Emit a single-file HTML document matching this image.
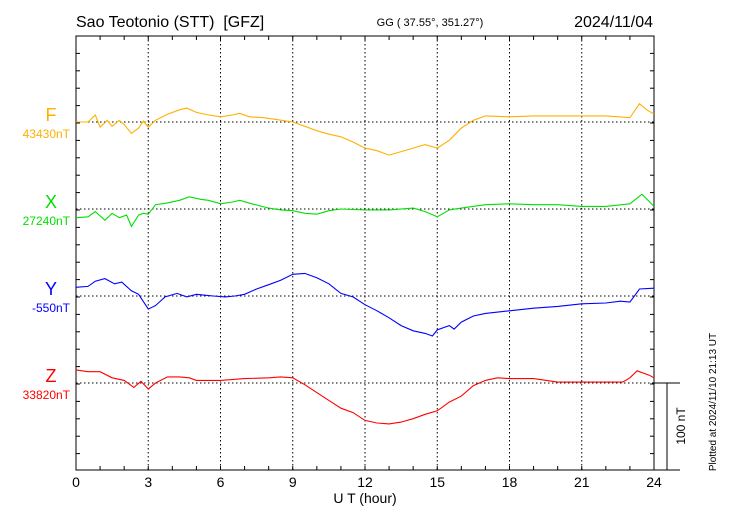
<!DOCTYPE html>
<html><head><meta charset="utf-8"><style>
body{margin:0;background:#fff}
svg{display:block;font-family:"Liberation Sans",sans-serif}
</style></head><body>
<svg id="chart" width="730" height="520" viewBox="0 0 730 520">
<text x="76" y="27" font-size="16" fill="#000">Sao Teotonio (STT)&#160; [GFZ]</text>
<text x="430" y="26" font-size="11" text-anchor="middle" fill="#000">GG ( 37.55°, 351.27°)</text>
<text x="653" y="27" font-size="16" text-anchor="end" fill="#000">2024/11/04</text>
<text x="365" y="503" font-size="14" text-anchor="middle" fill="#000">U T (hour)</text>
<text transform="translate(685,426) rotate(-90)" font-size="12" text-anchor="middle" fill="#000">100 nT</text>
<text transform="translate(716,402) rotate(-90)" font-size="10" text-anchor="middle" fill="#000">Plotted at 2024/11/10 21:13 UT</text>
<g id="grid"></g><g id="axes"></g><g id="series"></g>
</svg>
<script>
const hours = [0,3,6,9,12,15,18,21,24];
const fT=[0,0.5,0.8,1.0,1.3,1.5,1.8,2.0,2.3,2.6,2.8,3.0,3.3,3.8,4.3,4.6,5.0,5.5,6.0,6.5,6.8,7.2,7.8,8.3,9.0,9.5,10,10.5,11,11.5,12,12.5,13,13.5,14,14.5,15,15.5,16,16.5,17,18,19,20,21,22,23,23.4,23.7,24];
const fV=[0,0,8,-6,2,-5,2,-3,-13,-7,1,-6,2,9,14,16,11,8,6,8,10,6,5,3,0,-5,-10,-14,-17,-23,-30,-33,-38,-34,-30,-26,-30,-21,-7,2,7,6,7,7,7,7,5,21,14,9];
const xT=[0,0.5,0.8,1.2,1.5,1.8,2.1,2.3,2.6,2.8,3.0,3.3,3.8,4.3,4.7,5.2,5.5,6.0,6.5,6.8,7.3,8,8.5,9,9.5,10,10.5,11,12,13,14,14.5,15,15.5,16,17,18,19,20,21,22,23,23.5,24];
const xV=[-10,-9,-3,-13,-5,-10,-7,-20,-7,-5,-6,5,7,10,14,11,10,6,8,10,6,1,-1,-2,-5,-6,-2,0,-1,-1,1,-3,-9,-1,1,5,6,5,5,3,3,6,17,3];
const yT=[0,0.5,0.8,1.2,1.6,1.9,2.3,2.6,3.0,3.3,3.7,4.2,4.6,5.0,5.3,5.7,6.2,6.6,7.0,7.5,8,8.5,9,9.5,10,10.5,11,11.5,12,12.5,13,13.5,14,14.5,14.8,15,15.5,15.7,16,16.5,17,18,19,20,21,22,22.6,23,23.4,24];
const yV=[10,11,17,20,14,16,6,2,-15,-11,-1,3,-1,2,1,0,-1,0,2,8,13,18,25,26,21,14,3,-1,-10,-17,-25,-34,-40,-43,-46,-39,-34,-38,-30,-23,-20,-17,-14,-12,-9,-8,-6,-7,8,9];
const zT=[0,0.5,1,1.5,2,2.4,2.7,3,3.3,3.8,4.3,4.7,5,6,7,8,8.5,9,9.5,10,10.5,11,11.5,12,12.5,13,13.5,14,14.5,15,15.5,16,16.5,17,17.5,18,19,20,21,22,22.7,23,23.3,23.8,24];
const zV=[15,13,13,6,3,-5,2,-7,0,7,7,6,3,3,5,6,7,6,-2,-11,-20,-29,-34,-43,-46,-47,-45,-41,-36,-32,-22,-15,-3,3,6,5,5,1,1,1,1,6,14,9,6];
const names=['F','X','Y','Z'];
const bases=['43430nT','27240nT','-550nT','33820nT'];
const colors=['#ffb000','#00e000','#0000ff','#ff0000'];
const X0=76,X1=654,Y0=36,Y1=470,PXNT=0.87;
const baseY=[122,209,296,383];
const sx=h=>X0+(X1-X0)*h/24;
const ns='http://www.w3.org/2000/svg';
function mk(tag,attrs,parent){const e=document.createElementNS(ns,tag);for(const k in attrs)e.setAttribute(k,attrs[k]);parent.appendChild(e);return e;}
const grid=document.getElementById('grid'),axes=document.getElementById('axes'),ser=document.getElementById('series');
hours.forEach(h=>{
  if(h>0&&h<24){const l=mk('line',{x1:sx(h),x2:sx(h),y1:Y0,y2:Y1,stroke:'#000','stroke-width':1,'stroke-dasharray':'1.5,2.5'},grid);
  
  }
  const t=mk('text',{x:sx(h),y:487,'font-size':14,'text-anchor':'middle',fill:'#000'},axes);t.textContent=h;
  
  
});
baseY.forEach(y=>{const l=mk('line',{x1:X0,x2:X1,y1:y,y2:y,stroke:'#000','stroke-width':1,'stroke-dasharray':'1.5,2.5'},grid);
  
  });
const fr=mk('rect',{x:X0,y:Y0,width:X1-X0,height:Y1-Y0,fill:'none',stroke:'#000','stroke-width':1},axes);


for(let h=1;h<24;h++){mk('line',{x1:sx(h),x2:sx(h),y1:Y0,y2:Y0+4,stroke:'#000'},axes);mk('line',{x1:sx(h),x2:sx(h),y1:Y1,y2:Y1-4,stroke:'#000'},axes);}
for(let k=1;k<25;k++){const y=Y0+k*17.4;if(y<Y1){mk('line',{x1:X0,x2:X0+4,y1:y,y2:y,stroke:'#000'},axes);mk('line',{x1:X1,x2:X1-4,y1:y,y2:y,stroke:'#000'},axes);}}
mk('line',{x1:X1,x2:680,y1:Y1,y2:Y1,stroke:'#000'},axes);
mk('line',{x1:X1,x2:680,y1:383,y2:383,stroke:'#000'},axes);
const sb=mk('line',{x1:667,x2:667,y1:383,y2:Y1,stroke:'#000'},axes);


const data=[[fT,fV],[xT,xV],[yT,yV],[zT,zV]];
data.forEach((d,i)=>{
  const pts=d[0].map((t,j)=>sx(t).toFixed(1)+','+(baseY[i]-d[1][j]*PXNT).toFixed(1)).join(' ');
  const p=mk('polyline',{points:pts,fill:'none',stroke:colors[i],'stroke-width':1.1},ser);
  
  
  const n=mk('text',{x:51,y:baseY[i]-1,'font-size':18,'text-anchor':'middle',fill:colors[i]},ser);n.textContent=names[i];
  
  
  const b=mk('text',{x:70,y:baseY[i]+16,'font-size':12,'text-anchor':'end',fill:colors[i]},ser);b.textContent=bases[i];
  
  
});
</script>
</body></html>
